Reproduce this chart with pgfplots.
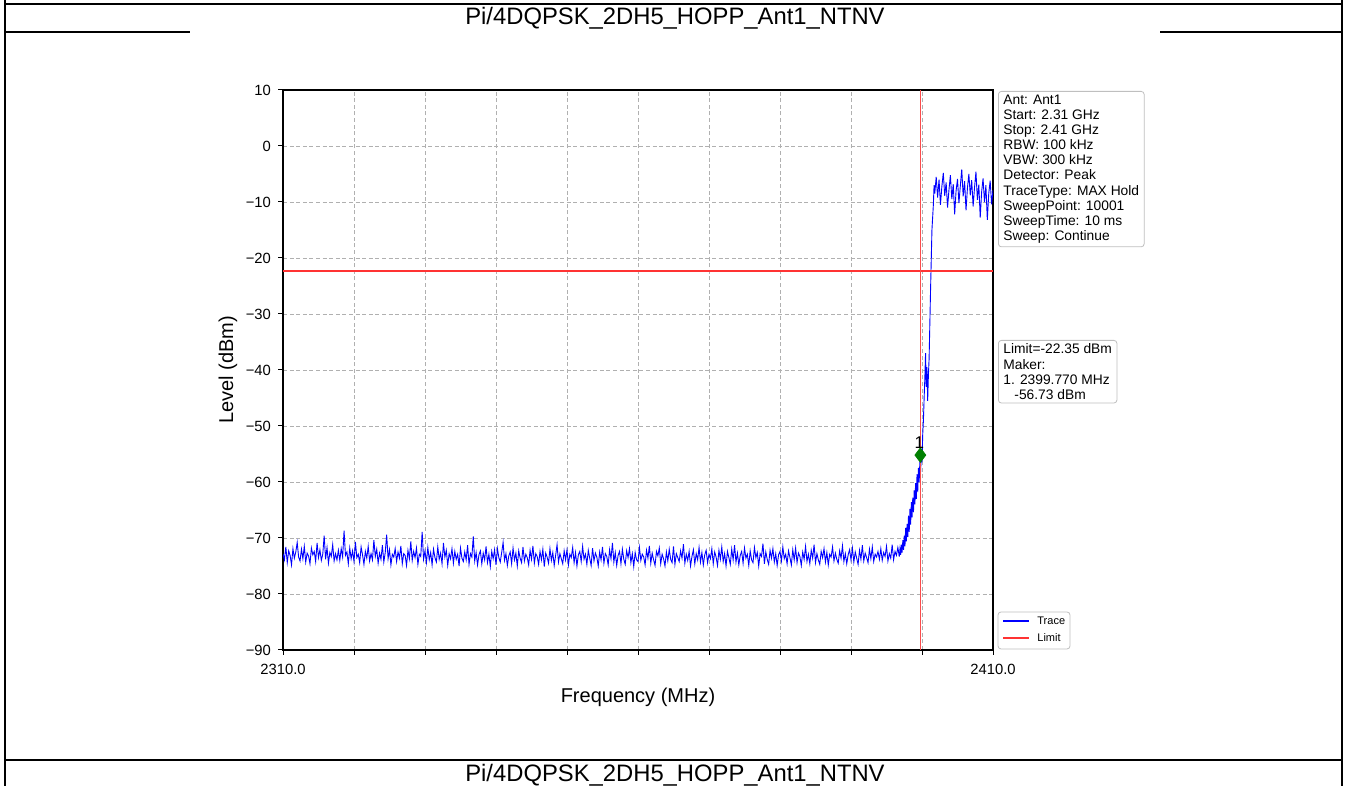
\documentclass[border=0pt]{standalone}
\usepackage{fontspec}
\setmainfont{Liberation Sans}
\usepackage{pgfplots}
\pgfplotsset{compat=1.18}
\usepackage{pgfplotstable}

\definecolor{mgreen}{HTML}{008000}
\definecolor{gridc}{HTML}{B0B0B0}
\definecolor{tblue}{HTML}{0000FF}
\definecolor{lred}{rgb}{1,0.2,0.2}
\definecolor{vred}{rgb}{0.98,0.3,0.3}

% noise floor, 2310.0 ... 2396.8 MHz, step 0.2 MHz
\pgfplotstableread[row sep=\\]{
y\\
-72.8\\ -73.9\\ -71.6\\ -74.4\\ -72.3\\ -73.1\\ -74.8\\ -71.9\\ -73.6\\ -72.5\\ -70.8\\ -73.4\\ -74.1\\ -72.0\\ -73.7\\ -71.5\\ -74.3\\ -72.7\\ -73.2\\ -74.6\\
-71.8\\ -73.0\\ -72.4\\ -74.2\\ -70.9\\ -73.5\\ -72.1\\ -74.0\\ -72.9\\ -69.6\\ -73.8\\ -71.7\\ -74.5\\ -72.6\\ -73.3\\ -71.2\\ -74.1\\ -72.8\\ -73.9\\ -72.2\\
-74.0\\ -71.9\\ -73.4\\ -68.7\\ -73.1\\ -72.5\\ -74.6\\ -71.8\\ -73.7\\ -72.3\\ -74.2\\ -70.7\\ -73.5\\ -72.9\\ -74.4\\ -71.6\\ -73.0\\ -74.7\\ -72.4\\ -73.6\\
-71.5\\ -74.1\\ -72.8\\ -73.9\\ -70.4\\ -73.3\\ -72.0\\ -74.5\\ -72.7\\ -73.8\\ -71.3\\ -74.3\\ -72.6\\ -69.4\\ -73.7\\ -72.1\\ -74.8\\ -72.9\\ -73.4\\ -71.9\\
-74.2\\ -72.5\\ -73.6\\ -71.4\\ -74.6\\ -72.8\\ -73.1\\ -74.9\\ -72.2\\ -73.7\\ -70.6\\ -74.0\\ -72.4\\ -73.5\\ -71.8\\ -74.7\\ -72.9\\ -73.3\\ -68.9\\ -73.8\\
-72.3\\ -74.4\\ -71.7\\ -73.9\\ -72.6\\ -74.8\\ -72.0\\ -73.5\\ -74.3\\ -71.6\\ -73.8\\ -72.7\\ -74.6\\ -70.9\\ -73.4\\ -72.2\\ -74.9\\ -72.8\\ -73.7\\ -71.9\\
-74.5\\ -72.4\\ -73.8\\ -72.9\\ -75.0\\ -71.8\\ -73.6\\ -74.2\\ -72.5\\ -73.9\\ -71.3\\ -74.7\\ -72.8\\ -73.4\\ -69.7\\ -74.1\\ -72.6\\ -74.8\\ -73.0\\ -72.3\\
-74.6\\ -72.7\\ -73.9\\ -71.5\\ -74.4\\ -72.9\\ -75.1\\ -72.4\\ -73.7\\ -72.1\\ -74.8\\ -71.9\\ -73.5\\ -74.3\\ -72.6\\ -70.8\\ -74.0\\ -72.8\\ -74.9\\ -73.2\\
-72.5\\ -74.6\\ -71.8\\ -73.9\\ -72.7\\ -75.0\\ -72.3\\ -73.6\\ -74.4\\ -71.6\\ -74.1\\ -72.9\\ -73.5\\ -74.8\\ -72.2\\ -73.8\\ -71.4\\ -74.5\\ -72.8\\ -73.3\\
-74.7\\ -72.4\\ -73.9\\ -72.0\\ -75.1\\ -72.7\\ -73.4\\ -74.5\\ -71.9\\ -74.0\\ -72.6\\ -74.9\\ -73.1\\ -71.2\\ -74.3\\ -72.8\\ -73.7\\ -74.6\\ -72.3\\ -73.9\\
-72.1\\ -74.8\\ -72.9\\ -73.5\\ -71.7\\ -74.4\\ -72.6\\ -75.0\\ -73.0\\ -72.4\\ -74.2\\ -71.5\\ -73.8\\ -72.9\\ -74.7\\ -72.2\\ -73.6\\ -74.9\\ -71.8\\ -74.1\\
-72.7\\ -73.4\\ -75.0\\ -72.5\\ -73.9\\ -71.6\\ -74.5\\ -72.8\\ -73.3\\ -74.8\\ -72.1\\ -73.7\\ -70.9\\ -74.3\\ -72.6\\ -74.9\\ -73.1\\ -72.4\\ -74.6\\ -72.0\\
-73.8\\ -74.7\\ -72.3\\ -73.5\\ -71.9\\ -74.4\\ -72.8\\ -75.1\\ -72.6\\ -73.9\\ -74.2\\ -71.7\\ -74.0\\ -72.9\\ -73.4\\ -74.8\\ -72.2\\ -73.6\\ -71.4\\ -74.5\\
-72.7\\ -73.9\\ -74.9\\ -72.4\\ -73.2\\ -71.8\\ -74.6\\ -72.9\\ -73.7\\ -75.0\\ -72.5\\ -74.1\\ -72.0\\ -73.8\\ -74.4\\ -71.5\\ -74.7\\ -72.8\\ -73.5\\ -74.2\\
-72.3\\ -73.6\\ -71.1\\ -74.5\\ -72.9\\ -74.0\\ -72.4\\ -75.0\\ -73.3\\ -72.1\\ -74.6\\ -72.8\\ -73.9\\ -71.7\\ -74.3\\ -72.6\\ -74.8\\ -73.0\\ -72.2\\ -74.4\\
-72.9\\ -73.7\\ -71.9\\ -74.6\\ -72.5\\ -73.4\\ -74.9\\ -72.2\\ -73.8\\ -71.6\\ -74.2\\ -72.8\\ -75.0\\ -72.4\\ -73.5\\ -74.7\\ -72.0\\ -73.9\\ -71.3\\ -74.3\\
-72.7\\ -74.8\\ -73.1\\ -72.4\\ -74.5\\ -71.8\\ -73.6\\ -72.9\\ -74.9\\ -72.3\\ -73.9\\ -74.4\\ -71.7\\ -73.5\\ -72.6\\ -75.0\\ -72.8\\ -73.3\\ -71.0\\ -74.6\\
-72.5\\ -73.8\\ -74.7\\ -72.2\\ -73.6\\ -71.9\\ -74.3\\ -72.8\\ -74.9\\ -73.0\\ -72.4\\ -74.1\\ -71.6\\ -73.7\\ -72.9\\ -74.6\\ -72.3\\ -73.5\\ -74.8\\ -72.1\\
-73.9\\ -71.8\\ -74.4\\ -72.7\\ -73.3\\ -74.9\\ -72.5\\ -73.8\\ -71.5\\ -74.2\\ -72.9\\ -74.6\\ -72.2\\ -73.6\\ -71.2\\ -74.4\\ -72.8\\ -73.9\\ -74.7\\ -72.4\\
-73.5\\ -71.9\\ -74.3\\ -72.6\\ -74.8\\ -72.9\\ -73.4\\ -71.6\\ -74.1\\ -72.7\\ -73.8\\ -74.5\\ -72.3\\ -73.6\\ -71.4\\ -74.2\\ -72.8\\ -74.6\\ -73.0\\ -72.1\\
-73.9\\ -71.8\\ -74.3\\ -72.5\\ -73.6\\ -74.7\\ -72.2\\ -73.8\\ -71.3\\ -74.1\\ -72.7\\ -73.5\\ -74.4\\ -72.0\\ -73.7\\ -71.6\\ -74.2\\ -72.9\\ -73.4\\ -72.4\\
-73.8\\ -71.9\\ -74.0\\ -72.6\\ -73.3\\ -71.5\\ -74.1\\ -72.8\\ -73.6\\ -71.2\\ -73.9\\ -72.4\\ -73.1\\ -71.7\\ -73.3\\
}\floor

\begin{document}
\begin{tikzpicture}
\clip (0,0) rectangle (673pt,393pt);
\useasboundingbox (0,0) rectangle (673pt,393pt);
% outer table frame
\draw[line width=1pt] (2.5pt,391pt) -- (671pt,391pt);
\draw[line width=0.8pt] (2.5pt,393pt) -- (2.5pt,0pt);
\draw[line width=0.8pt] (671pt,393pt) -- (671pt,0pt);
\draw[line width=1pt] (2.5pt,377pt) -- (95pt,377pt);
\draw[line width=1pt] (580pt,377pt) -- (671pt,377pt);
\draw[line width=1pt] (2.5pt,13pt) -- (671pt,13pt);
\node[font=\fontsize{11.9}{13}\selectfont] at (337.5pt,384pt) {Pi/4DQPSK\_2DH5\_HOPP\_Ant1\_NTNV};
\node[font=\fontsize{11.9}{13}\selectfont] at (337.5pt,5.5pt) {Pi/4DQPSK\_2DH5\_HOPP\_Ant1\_NTNV};

\begin{axis}[
  at={(141.5pt,68pt)}, anchor=south west,
  width=355pt, height=280pt, scale only axis,
  xmin=2310, xmax=2410, ymin=-90, ymax=10,
  xtick={2310,2320,...,2410},
  xticklabels={2310.0,,,,,,,,,,2410.0},
  ytick={-90,-80,...,10},
  yticklabels={−90,−80,−70,−60,−50,−40,−30,−20,−10,0,10},
  tick align=outside, tick pos=left,
  major tick length=2.5pt,
  every tick/.style={black, line width=0.5pt},
  ticklabel style={font=\fontsize{7.4}{8}\selectfont},
  xticklabel style={yshift=-1pt},
  grid=major,
  major grid style={gridc, line width=0.4pt, dash pattern=on 2pt off 1.3pt},
  axis line style={line width=0.6pt, black},
  xlabel={Frequency (MHz)}, ylabel={Level (dBm)},
  label style={font=\fontsize{10}{12}\selectfont},
  xlabel style={at={(axis description cs:0.5,-0.084)}, anchor=center},
  ylabel style={at={(axis description cs:-0.0775,0.5)}, anchor=center},
  clip=true,
]
\addplot[draw=tblue, line width=0.45pt] table[x expr=2310+0.2*\coordindex, y=y] {\floor};
\addplot[draw=tblue, line width=0.45pt] coordinates {
(2396.8,-73.3) (2396.9,-71.9) (2397.0,-73.0) (2397.1,-71.2) (2397.2,-72.6) (2397.3,-70.4)
(2397.4,-72.1) (2397.5,-69.6) (2397.6,-71.5) (2397.7,-68.2) (2397.8,-70.6) (2397.9,-67.5)
(2398.0,-69.8) (2398.1,-66.0) (2398.2,-68.9) (2398.3,-64.8) (2398.4,-67.6) (2398.5,-63.6)
(2398.6,-66.3) (2398.7,-62.8) (2398.8,-65.4) (2398.9,-61.5) (2399.0,-64.0) (2399.1,-60.2)
(2399.2,-63.0) (2399.3,-58.6) (2399.4,-61.8) (2399.5,-57.5) (2399.6,-60.0) (2399.7,-56.4)
(2399.8,-58.2) (2399.9,-54.8) (2400.0,-56.5) (2400.1,-51.5) (2400.2,-49.0) (2400.3,-45.0)
(2400.4,-41.5) (2400.5,-37.0) (2400.6,-43.0) (2400.7,-39.5) (2400.8,-45.5) (2400.9,-41.0)
(2401.0,-38.0) (2401.2,-26.0) (2401.4,-15.0) (2401.6,-10.5) (2401.7,-7.0)
(2401.8,-8.5) (2402.0,-5.5) (2402.2,-9.2) (2402.4,-6.0) (2402.6,-10.5) (2402.8,-7.2)
(2403.0,-4.8) (2403.2,-8.9) (2403.4,-6.5) (2403.6,-11.0) (2403.8,-7.8) (2404.0,-5.2)
(2404.2,-9.5) (2404.4,-6.8) (2404.6,-12.2) (2404.8,-8.0) (2405.0,-5.9) (2405.2,-10.2)
(2405.4,-7.1) (2405.6,-4.2) (2405.8,-9.0) (2406.0,-6.3) (2406.2,-11.5) (2406.4,-7.5)
(2406.6,-5.0) (2406.8,-8.8) (2407.0,-6.1) (2407.2,-10.8) (2407.4,-7.4) (2407.6,-4.6)
(2407.8,-9.6) (2408.0,-6.9) (2408.2,-12.8) (2408.4,-8.2) (2408.6,-5.8) (2408.8,-10.0)
(2409.0,-7.0) (2409.2,-13.2) (2409.4,-8.5) (2409.6,-6.2) (2409.8,-10.4) (2410.0,-7.9)
};
\addplot[draw=lred, line width=0.75pt] coordinates {(2310,-22.35) (2410,-22.35)};
\addplot[draw=vred, line width=0.55pt] coordinates {(2399.77,-90) (2399.77,10)};
\addplot[only marks, mark=diamond*, mark size=3.6pt, color=mgreen,
  nodes near coords={1}, every node near coord/.style={black, font=\fontsize{8.5}{9}\selectfont, anchor=south, yshift=0pt, xshift=-0.5pt}]
  coordinates {(2399.77,-55.2)};
\end{axis}

% info boxes
\node[draw=black!25, rounded corners=1.5pt, fill=white, anchor=north west,
  align=left, inner xsep=2.5pt, inner ysep=1.8pt,
  font=\fontsize{6.9}{7.55}\selectfont] at (499pt,347.5pt)
  {Ant: Ant1\\Start: 2.31 GHz\\Stop: 2.41 GHz\\RBW: 100 kHz\\VBW: 300 kHz\\Detector: Peak\\TraceType: MAX Hold\\SweepPoint: 10001\\SweepTime: 10 ms\\Sweep: Continue};
\node[draw=black!25, rounded corners=1.5pt, fill=white, anchor=north west,
  align=left, inner xsep=2.5pt, inner ysep=1.8pt,
  font=\fontsize{6.9}{7.55}\selectfont] at (499pt,223pt)
  {Limit=-22.35 dBm\\Maker:\\1. 2399.770 MHz\\\hspace*{0.8em}-56.73 dBm};
% legend
\draw[black!25, rounded corners=1.5pt, fill=white] (499pt,68.5pt) rectangle (535pt,87pt);
\draw[tblue, line width=0.6pt] (501.5pt,82.5pt) -- (514.5pt,82.5pt);
\draw[lred, line width=0.75pt] (501.5pt,74pt) -- (514.5pt,74pt);
\node[anchor=west, inner sep=0pt, font=\fontsize{5.5}{6.5}\selectfont] at (518.5pt,82.5pt) {Trace};
\node[anchor=west, inner sep=0pt, font=\fontsize{5.5}{6.5}\selectfont] at (518.5pt,74pt) {Limit};
\end{tikzpicture}
\end{document}
